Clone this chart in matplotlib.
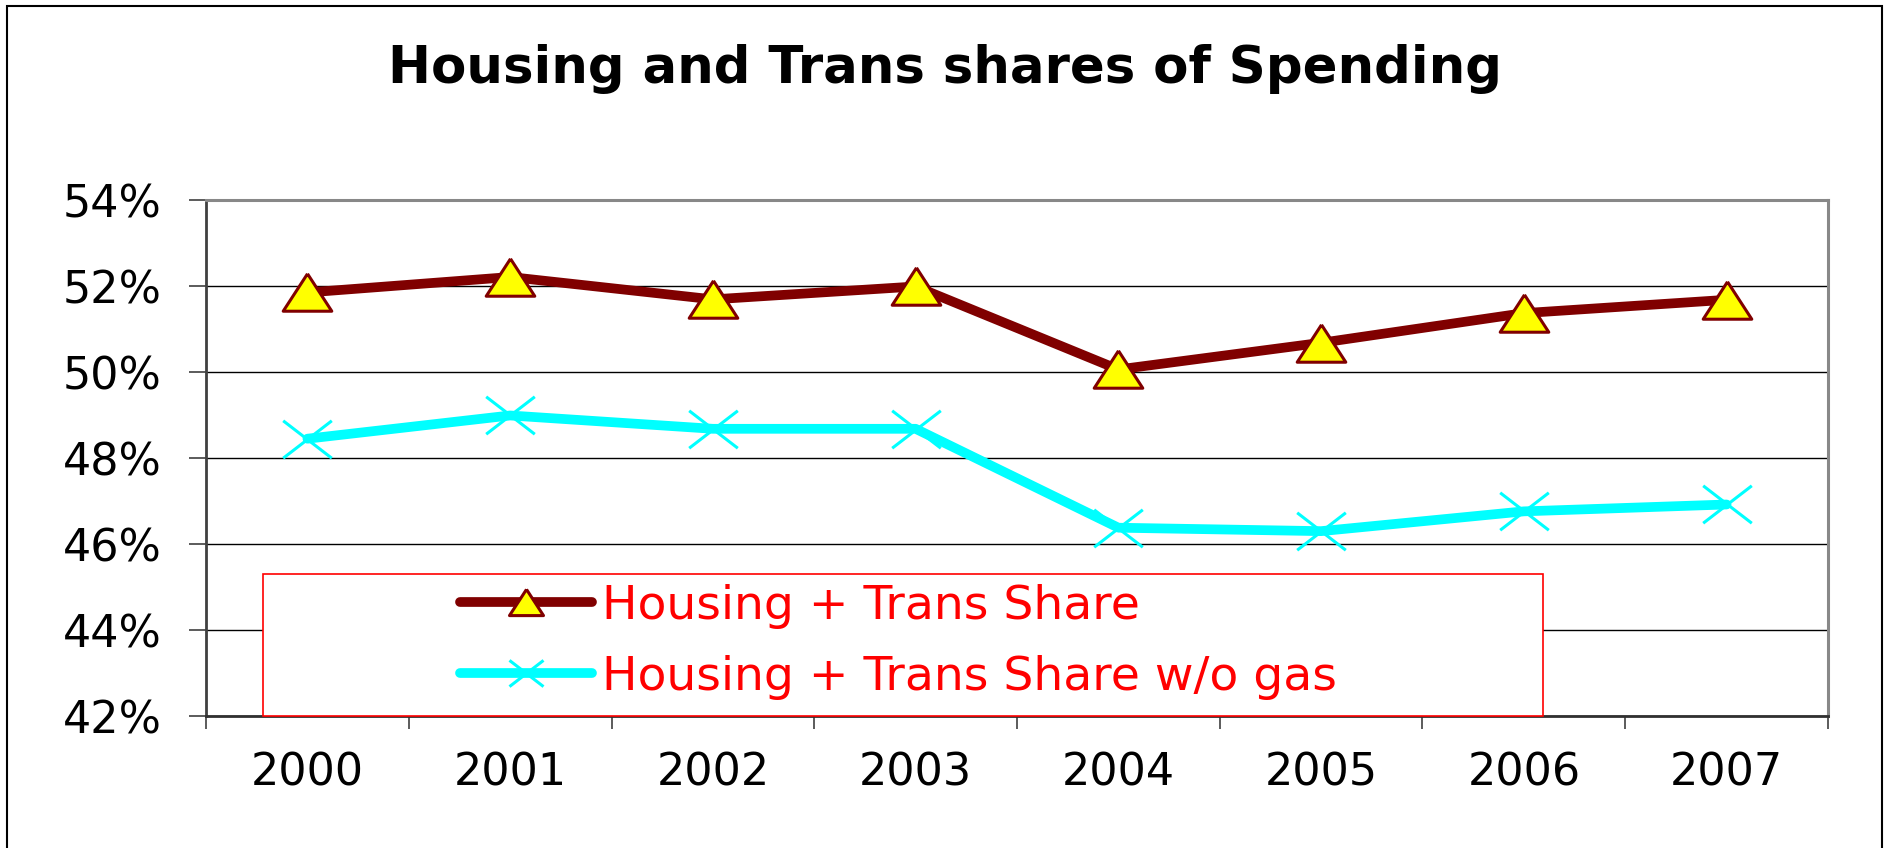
import matplotlib
matplotlib.use("Agg")
import matplotlib.pyplot as plt
from matplotlib.path import Path
from matplotlib.patches import Rectangle

# data (percent)
years = ["2000", "2001", "2002", "2003", "2004", "2005", "2006", "2007"]
share = [51.86, 52.22, 51.70, 52.00, 50.07, 50.69, 51.38, 51.69]
share_no_gas = [48.46, 49.00, 48.69, 48.69, 46.39, 46.31, 46.77, 46.93]
yticks = [42, 44, 46, 48, 50, 52, 54]

# wide, flat markers like the Excel ones
tri = [(0, 0.77), (-1, -0.77), (1, -0.77), (0, 0.77)]
cross = Path([(-1, -0.77), (1, 0.77), (-1, 0.77), (1, -0.77)],
             [Path.MOVETO, Path.LINETO, Path.MOVETO, Path.LINETO])

fig = plt.figure(figsize=(18.87, 8.48), dpi=100)
ax = fig.add_axes([0.1092, 0.1551, 0.8595, 0.6085])

x = list(range(len(years)))
ax.plot(x, share, color="#800000", lw=7, solid_capstyle="round",
        marker=tri, ms=35, mfc="#FFFF00", mec="#800000", mew=2.2,
        label="Housing + Trans Share", zorder=4)
ax.plot(x, share_no_gas, color="#00FFFF", lw=7, solid_capstyle="round",
        marker=cross, ms=35, mfc="none", mec="#00FFFF", mew=2.2,
        label="Housing + Trans Share w/o gas", zorder=4)

ax.set_xlim(-0.5, len(years) - 0.5)
ax.set_ylim(42, 54)
ax.set_yticks(yticks)
ax.set_yticklabels([f"{v}%" for v in yticks])
ax.set_xticks(x)
ax.set_xticklabels(years)
ax.set_xticks([i - 0.5 for i in range(len(years) + 1)], minor=True)

ax.tick_params(axis="y", labelsize=32, length=12, width=1.2, pad=20,
               direction="out", color="#404040")
ax.tick_params(axis="x", which="major", labelsize=32, length=0, pad=25)
ax.tick_params(axis="x", which="minor", length=9, width=1.2,
               direction="out", color="#404040")

ax.grid(axis="y", color="black", lw=1.0, zorder=1)
ax.set_axisbelow(True)

for side in ["top", "right"]:
    ax.spines[side].set_color("#888888")
    ax.spines[side].set_linewidth(2.2)
ax.spines["left"].set_color("#404040")
ax.spines["left"].set_linewidth(2.0)
ax.spines["bottom"].set_color("#303030")
ax.spines["bottom"].set_linewidth(2.0)

# legend box sits over the bottom of the plot
ax.add_patch(Rectangle((0.0348, 0.0), 0.7895, 0.277, transform=ax.transAxes,
                       facecolor="white", edgecolor="red", lw=1.2,
                       zorder=3, clip_on=False))
leg = fig.legend(loc="center left", bbox_to_anchor=(460 / 1887, 1 - 642 / 848),
                 frameon=False, fontsize=34, handlelength=2.8,
                 handletextpad=0.2, labelspacing=0.55, borderpad=0,
                 borderaxespad=0, markerscale=0.7)
for t in leg.get_texts():
    t.set_color("red")
leg.set_zorder(5)

fig.text(0.501, 1 - 83 / 848, "Housing and Trans shares of Spending",
         ha="center", va="baseline", fontsize=37, fontweight="bold")

# outer chart frame
fig.patches.append(Rectangle((7 / 1887, -0.05), (1882 - 7) / 1887,
                             1.05 - 6 / 848, transform=fig.transFigure,
                             fill=False, edgecolor="black", lw=1.5))

fig.savefig("out.png", dpi=100)
